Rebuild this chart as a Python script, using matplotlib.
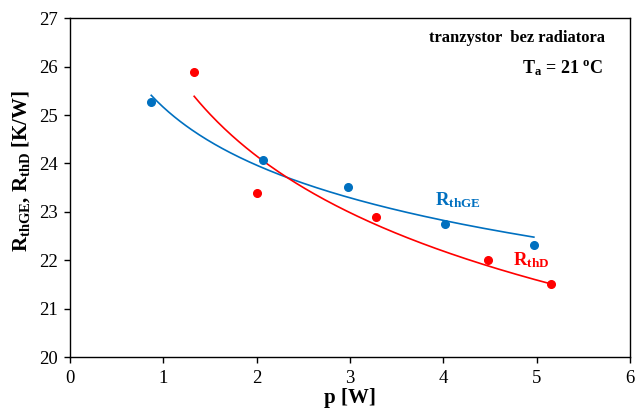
import matplotlib
matplotlib.use("Agg")
import matplotlib.pyplot as plt
import numpy as np

plt.rcParams['font.family'] = 'Liberation Serif'
plt.rcParams['mathtext.fontset'] = 'custom'
plt.rcParams['mathtext.rm'] = 'Liberation Serif'
plt.rcParams['mathtext.bf'] = 'Liberation Serif:bold'

# measured points
p_ge = [0.87, 2.07, 2.98, 4.02, 4.97]
r_ge = [25.26, 24.07, 23.51, 22.76, 22.31]
p_d = [1.33, 2.00, 3.28, 4.48, 5.15]
r_d = [25.88, 23.40, 22.89, 22.00, 21.52]

blue = '#0070C0'
red = '#FF0000'

def power_fit(x, y):
    # trendline y = a*x^b, like a spreadsheet power trend
    b, lna = np.polyfit(np.log(x), np.log(y), 1)
    xs = np.linspace(min(x), max(x), 200)
    return xs, np.exp(lna) * xs**b

fig = plt.figure(figsize=(6.37, 4.12), dpi=100)
ax = fig.add_axes([0.110, 0.133, 0.879, 0.823])

xs, ys = power_fit(p_ge, r_ge)
ax.plot(xs, ys, '-', color=blue, lw=1.2)
xs, ys = power_fit(p_d, r_d)
ax.plot(xs, ys, '-', color=red, lw=1.2)
ax.plot(p_ge, r_ge, 'o', color=blue, ms=5.5)
ax.plot(p_d, r_d, 'o', color=red, ms=5.5)

ax.set_xlim(0, 6)
ax.set_ylim(20, 27)
ax.set_xticks(range(0, 7))
ax.set_yticks(range(20, 28))
ax.tick_params(direction='out', length=4, labelsize=13.5, width=1, pad=5)
for s in ax.spines.values():
    s.set_linewidth(1)

ax.set_xlabel('p [W]', fontsize=15, fontweight='bold', labelpad=1)
ax.set_ylabel(r'$\mathbf{R_{thGE}}$, $\mathbf{R_{thD}}$ [K/W]',
              fontsize=15, fontweight='bold')
ax.yaxis.set_label_coords(-0.068, 0.55)

ax.text(5.73, 26.59, 'tranzystor  bez radiatora', ha='right', va='center',
        fontsize=12, fontweight='bold')
ax.text(5.71, 25.97, r'$\mathbf{T_a}$ = 21 $\mathbf{^o}$C', ha='right', va='center',
        fontsize=13, fontweight='bold')
ax.text(3.91, 23.24, r'$\mathbf{R_{thGE}}$', ha='left', va='center',
        fontsize=13.5, color=blue)
ax.text(4.75, 22.0, r'$\mathbf{R_{thD}}$', ha='left', va='center',
        fontsize=13.5, color=red)

fig.savefig('out.png', dpi=100)
